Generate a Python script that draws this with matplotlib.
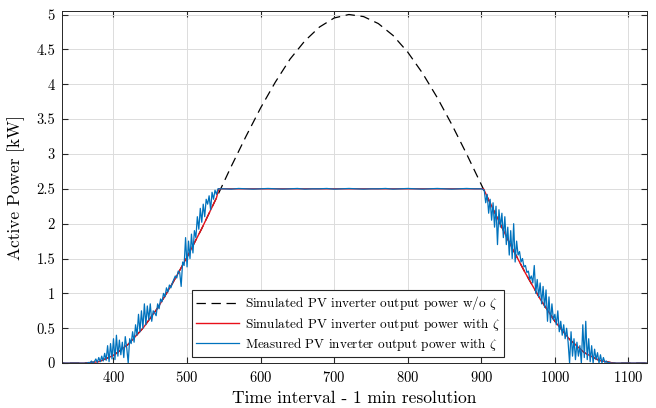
import numpy as np
import matplotlib.pyplot as plt

plt.rcParams['font.family'] = 'cmr10'
plt.rcParams['mathtext.fontset'] = 'cm'
plt.rcParams['axes.formatter.use_mathtext'] = True

# simulated PV output without zeta (read every 20 min)
t_sim = [300, 360, 380, 400, 420, 440, 460, 480, 500, 520, 540, 560, 580, 600, 620,
         640, 660, 680, 700, 720, 740, 760, 780, 800, 820, 840, 860, 880, 900,
         920, 940, 960, 980, 1000, 1020, 1040, 1060, 1080, 1140]
p_sim = [0, 0, 0.02, 0.11, 0.27, 0.50, 0.79, 1.14, 1.52, 1.93, 2.37, 2.82, 3.25,
         3.66, 4.03, 4.36, 4.62, 4.82, 4.95, 5.00, 4.97, 4.87, 4.70, 4.46, 4.16,
         3.81, 3.42, 3.00, 2.56, 2.12, 1.69, 1.29, 0.92, 0.60, 0.34, 0.15, 0.04, 0, 0]

# simulated output with zeta (clipped at 2.5 kW)
t_red = [300, 360, 380, 400, 420, 440, 460, 480, 500, 520, 540, 543, 903, 920,
         940, 960, 980, 1000, 1020, 1040, 1060, 1080, 1140]
p_red = [0, 0, 0.02, 0.11, 0.27, 0.50, 0.79, 1.14, 1.52, 1.93, 2.37, 2.50, 2.50,
         2.12, 1.69, 1.29, 0.92, 0.60, 0.34, 0.15, 0.04, 0, 0]

# measured output with zeta
t_rise = np.arange(360, 546, 2)
p_rise = [0, 0, 0, 0.01, 0.0, 0.03, 0.0, 0.02, 0.06, 0.01, 0.08, 0.02, 0.10, 0.03,
          0.14, 0.04, 0.25, 0.02, 0.28, 0.06, 0.35, 0.05, 0.40, 0.10, 0.33, 0.12,
          0.30, 0.08, 0.38, 0.22, 0.00, 0.35, 0.28, 0.45, 0.30, 0.55, 0.40, 0.70,
          0.45, 0.75, 0.50, 0.85, 0.55, 0.82, 0.62, 0.85, 0.60, 0.75, 0.72, 0.68,
          0.85, 0.78, 0.92, 0.88, 1.00, 0.95, 1.08, 1.02, 1.12, 1.08, 1.15, 1.20,
          1.25, 1.22, 1.32, 1.30, 1.10, 1.45, 1.40, 1.80, 1.38, 1.75, 1.50, 1.85,
          1.58, 1.90, 1.80, 2.10, 1.92, 2.22, 2.02, 2.28, 2.10, 2.35, 2.28, 2.40,
          2.20, 2.45, 2.35, 2.48, 2.42, 2.50, 2.50]
t_flat = np.arange(550, 901, 10)
p_flat = [2.500, 2.495, 2.505, 2.500, 2.495, 2.500, 2.505, 2.500, 2.495, 2.500,
          2.505, 2.495, 2.500, 2.500, 2.505, 2.495, 2.500, 2.505, 2.500, 2.495,
          2.500, 2.500, 2.505, 2.495, 2.500, 2.505, 2.500, 2.495, 2.500, 2.505,
          2.500, 2.495, 2.500, 2.505, 2.500, 2.500]
t_fall = np.arange(904, 1081, 2)
p_fall = [2.48, 2.30, 2.42, 2.15, 2.35, 2.05, 2.30, 1.95, 2.25, 1.70, 2.20, 1.95,
          2.15, 1.80, 2.10, 1.70, 1.95, 1.55, 1.90, 1.50, 2.00, 1.45, 1.75, 1.55,
          1.60, 1.45, 1.50, 1.38, 1.40, 1.30, 1.32, 1.20, 1.25, 1.15, 1.40, 1.00,
          1.20, 0.95, 1.15, 0.85, 1.10, 0.80, 1.05, 0.60, 0.95, 0.58, 0.85, 0.62,
          0.70, 0.55, 0.75, 0.45, 0.60, 0.40, 0.55, 0.35, 0.50, 0.30, 0.00, 0.45,
          0.10, 0.35, 0.05, 0.30, 0.10, 0.25, 0.00, 0.55, 0.08, 0.60, 0.05, 0.35,
          0.02, 0.25, 0.00, 0.20, 0.05, 0.15, 0.00, 0.12, 0.00, 0.08, 0.01, 0.03,
          0.00, 0.01, 0.00, 0.00, 0.00]
t_meas = np.concatenate([[300], t_rise, t_flat, t_fall, [1140]])
p_meas = np.concatenate([[0], p_rise, p_flat, p_fall, [0]])

fig = plt.figure(figsize=(6.56, 4.08), dpi=100)
ax = fig.add_axes([0.0945, 0.11, 0.8915, 0.863])

ax.plot(t_sim, p_sim, '--', color='k', lw=0.9, dashes=(7.5, 4.5),
        label=r'Simulated PV inverter output power w/o $\zeta$')
ax.plot(t_red, p_red, '-', color='#e8101a', lw=1.0,
        label=r'Simulated PV inverter output power with $\zeta$')
ax.plot(t_meas, p_meas, '-', color='#0072BD', lw=0.9,
        label=r'Measured PV inverter output power with $\zeta$')

ax.set_xlim(330, 1125)
ax.set_ylim(0, 5.05)
ax.set_xticks([400, 500, 600, 700, 800, 900, 1000, 1100])
ax.set_yticks([0, 0.5, 1, 1.5, 2, 2.5, 3, 3.5, 4, 4.5, 5])
ax.set_yticklabels(['0', '0.5', '1', '1.5', '2', '2.5', '3', '3.5', '4', '4.5', '5'])
ax.grid(True, color='#dcdcdc', lw=0.7)
ax.set_axisbelow(True)
ax.tick_params(direction='in', top=True, right=True, labelsize=10.5,
               color='#262626', length=4, pad=5)
for s in ax.spines.values():
    s.set_color('#262626')
    s.set_linewidth(0.7)

ax.set_xlabel('Time interval - 1 min resolution', fontsize=12.5, labelpad=4)
ax.set_ylabel('Active Power [kW]', fontsize=12.5, labelpad=8)

leg = ax.legend(loc='lower left', bbox_to_anchor=(0.222, 0.018), fontsize=9.5,
                fancybox=False, edgecolor='#262626', framealpha=1,
                handlelength=3.3, borderpad=0.3, labelspacing=0.25,
                handletextpad=0.4, borderaxespad=0)
leg.get_frame().set_linewidth(0.8)

fig.savefig('out.png', dpi=100)
